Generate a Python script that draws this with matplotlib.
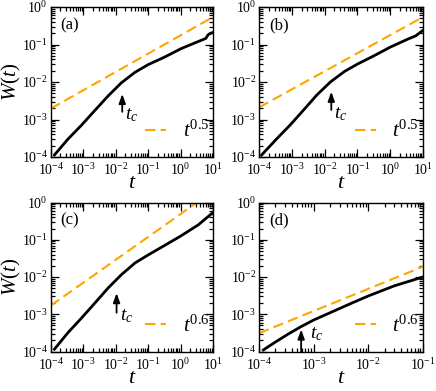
import matplotlib
matplotlib.use("Agg")
import matplotlib.pyplot as plt
from matplotlib.ticker import LogLocator, NullFormatter, FuncFormatter
from matplotlib.lines import Line2D
import numpy as np

plt.rcParams['font.family'] = ['Liberation Serif', 'DejaVu Serif']
plt.rcParams['mathtext.fontset'] = 'custom'
plt.rcParams['mathtext.rm'] = 'Liberation Serif'
plt.rcParams['mathtext.it'] = 'Liberation Serif:italic'
plt.rcParams['mathtext.bf'] = 'Liberation Serif:bold'

# ---- data ----
labels = ['(a)', '(b)', '(c)', '(d)']
exponents = ['0.5', '0.5', '0.6', '0.6']

t_a = [1.3e-4, 3.4e-4, 8.8e-4, 2.3e-3, 5.8e-3, 1.5e-2, 3.9e-2, 0.1, 0.32, 1.05, 3.5, 6, 7, 8, 10]
W_a = [1.13e-4, 3.0e-4, 7.0e-4, 1.75e-3, 4.2e-3, 9.5e-3, 1.8e-2, 2.9e-2, 4.6e-2, 7.8e-2, 0.12, 0.145, 0.18, 0.195, 0.21]

t_b = [1.2e-4, 3.4e-4, 9e-4, 2.3e-3, 5.8e-3, 1.5e-2, 4e-2, 0.1, 0.32, 1.0, 3.5, 6, 10]
W_b = [1.13e-4, 3.0e-4, 7.2e-4, 1.8e-3, 4.5e-3, 1.0e-2, 1.9e-2, 3.0e-2, 5.0e-2, 8.5e-2, 0.14, 0.17, 0.24]

t_c = [1.3e-4, 3.4e-4, 9e-4, 2.3e-3, 5.8e-3, 1.5e-2, 4e-2, 0.1, 0.32, 1.0, 3.5, 10]
W_c = [1.15e-4, 3.2e-4, 8e-4, 2.0e-3, 5e-3, 1.15e-2, 2.4e-2, 3.9e-2, 7e-2, 0.125, 0.25, 0.54]

t_d = [1.2e-4, 2e-4, 3.5e-4, 5.8e-4, 1e-3, 2e-3, 5e-3, 1e-2, 3e-2, 0.1]
W_d = [1.1e-4, 1.8e-4, 3.0e-4, 4.6e-4, 7.0e-4, 1.1e-3, 2.0e-3, 3.1e-3, 5.8e-3, 1e-2]

guide_t_a = [1e-4, 10]
guide_W_a = [1.95e-3, 0.54]
guide_t_b = [1e-4, 10]
guide_W_b = [2.1e-3, 0.54]
guide_t_c = [1e-4, 3.2]
guide_W_c = [1.7e-3, 1.0]
guide_t_d = [1e-4, 0.1]
guide_W_d = [3.1e-4, 1.9e-2]

xlims = [(1e-4, 10), (1e-4, 10), (1e-4, 10), (1e-4, 0.1)]
# arrow: (x, tail y, tip y), tc text (x, y)
arrows = [(1.6e-2, 1.6e-3, 4.8e-3), (1.6e-2, 1.8e-3, 5.5e-3),
          (1.07e-2, 1.1e-3, 3.7e-3), (5.9e-4, 1e-4, 3.9e-4)]
tc_pos = [(2.0e-2, 1.3e-3), (2.0e-2, 1.4e-3), (1.4e-2, 9e-4), (8.5e-4, 3.0e-4)]

curves = [(t_a, W_a), (t_b, W_b), (t_c, W_c), (t_d, W_d)]
guides = [(guide_t_a, guide_W_a), (guide_t_b, guide_W_b),
          (guide_t_c, guide_W_c), (guide_t_d, guide_W_d)]

orange = '#FFA500'

fig = plt.figure(figsize=(4.36, 3.91), dpi=100)
W_, H_ = 436, 391
boxes = [(50.7, 213, 7, 157), (259, 423, 7, 157),
         (50.7, 213, 202.5, 351.5), (259, 423, 202.5, 351.5)]

fmt = FuncFormatter(lambda v, p: r'$10^{%d}$' % int(round(np.log10(v))))

for i, (l, r, tp, bt) in enumerate(boxes):
    ax = fig.add_axes([l / W_, 1 - bt / H_, (r - l) / W_, (bt - tp) / H_])
    ax.set_xscale('log')
    ax.set_yscale('log')
    ax.set_xlim(*xlims[i])
    ax.set_ylim(1e-4, 1)
    tt, ww = curves[i]
    ax.plot(tt, ww, color='black', lw=2.0, solid_joinstyle='round')
    gt, gw = guides[i]
    ax.plot(gt, gw, color=orange, lw=1.5, linestyle=(0, (5, 2.5)))

    ax.xaxis.set_major_locator(LogLocator(base=10, numticks=10))
    ax.yaxis.set_major_locator(LogLocator(base=10, numticks=10))
    ax.xaxis.set_minor_locator(LogLocator(base=10, subs=range(2, 10), numticks=20))
    ax.yaxis.set_minor_locator(LogLocator(base=10, subs=range(2, 10), numticks=20))
    ax.xaxis.set_major_formatter(fmt)
    ax.yaxis.set_major_formatter(fmt)
    ax.xaxis.set_minor_formatter(NullFormatter())
    ax.yaxis.set_minor_formatter(NullFormatter())
    ax.tick_params(which='both', direction='in', top=True, right=True, labelsize=10, width=0.9)
    ax.tick_params(which='major', length=5.5)
    ax.tick_params(which='minor', length=3)
    ax.tick_params(axis='x', which='major', pad=4)
    ax.tick_params(axis='y', which='major', pad=2)
    for s in ax.spines.values():
        s.set_linewidth(1.0)

    ax.set_xlabel(r'$t$', fontsize=16, labelpad=-3)
    if i in (0, 2):
        ax.set_ylabel(r'$W(t)$', fontsize=15, labelpad=-1)

    ax.text(0.06, 0.88, labels[i], transform=ax.transAxes, fontsize=12,
            ha='left', va='center')

    ax_x, y0, y1 = arrows[i]
    ax.annotate('', xy=(ax_x, y1), xytext=(ax_x, y0),
                arrowprops=dict(arrowstyle='-|>,head_length=0.55,head_width=0.2',
                                color='black', lw=1.3, shrinkA=0, shrinkB=0))
    ax.text(tc_pos[i][0], tc_pos[i][1], r'$t_c$', fontsize=14, ha='left', va='center')

    h = Line2D([], [], color=orange, lw=1.5, linestyle=(0, (5, 2.5)))
    ax.legend([h], [r'$t^{%s}$' % exponents[i]], loc='center',
              bbox_to_anchor=(0.78, 0.17), frameon=False, fontsize=15,
              handlelength=1.0, handletextpad=0.8, borderpad=0, borderaxespad=0)

fig.savefig('out.png', dpi=100)
